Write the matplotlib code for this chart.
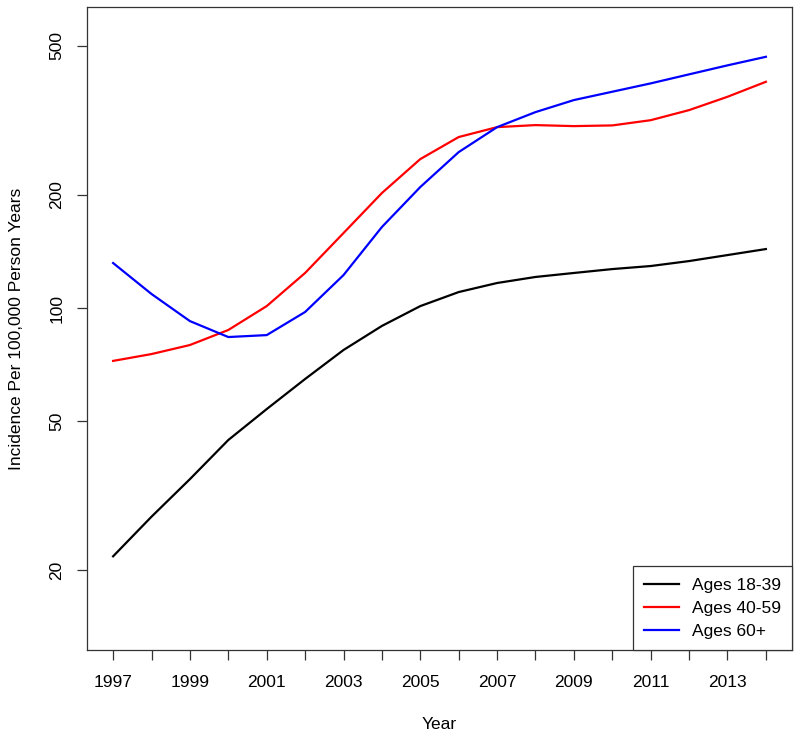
import numpy as np
import matplotlib
matplotlib.use("Agg")
import matplotlib.pyplot as plt
from matplotlib.ticker import FixedLocator, NullFormatter, NullLocator

plt.rcParams["font.family"] = ["Liberation Sans", "DejaVu Sans"]

years = list(range(1997, 2015))

# incidence per 100,000 person years
ages_18_39 = [21.8, 27.8, 35.0, 44.5, 53.8, 64.7, 77.3, 89.6, 101.2, 110.3,
              116.6, 121.0, 124.0, 127.0, 129.4, 133.4, 138.4, 143.6]
ages_40_59 = [72.3, 75.4, 79.7, 87.4, 101.2, 124.0, 158.4, 202.5, 249.4, 285.5,
              303.4, 307.2, 305.3, 306.6, 316.6, 336.8, 365.5, 400.7]
ages_60_up = [131.8, 109.0, 92.3, 83.7, 84.7, 97.6, 122.4, 164.4, 210.1, 260.3,
              303.4, 332.7, 358.2, 377.0, 396.8, 419.4, 443.2, 467.1]

series = [
    ("Ages 18-39", ages_18_39, "black"),
    ("Ages 40-59", ages_40_59, "#ff0000"),
    ("Ages 60+", ages_60_up, "#0000ff"),
]

y_ticks = [20, 50, 100, 200, 500]
x_label_years = list(range(1997, 2015, 2))

FS = 12.5

fig = plt.figure(figsize=(8.0, 7.38), dpi=100)
ax = fig.add_axes([0.10875, 0.11924, 0.88125, 0.87127])

for name, vals, col in series:
    ax.plot(years, vals, color=col, linewidth=1.6, label=name)

ax.set_yscale("log")
ax.set_xlim(1996.32, 2014.68)
ax.set_ylim(12.27, 634)

ax.yaxis.set_major_locator(FixedLocator(y_ticks))
ax.yaxis.set_minor_locator(NullLocator())
ax.set_yticklabels([str(v) for v in y_ticks], rotation=90, va="center")

ax.xaxis.set_major_locator(FixedLocator(x_label_years))
ax.xaxis.set_minor_locator(FixedLocator([y for y in years if y not in x_label_years]))
ax.xaxis.set_minor_formatter(NullFormatter())
ax.set_xticklabels([str(y) for y in x_label_years])

ax.tick_params(axis="both", which="both", direction="out", length=7.2,
               width=0.9, color="#333333", labelsize=FS)
ax.tick_params(axis="x", which="both", pad=10.5)
ax.tick_params(axis="y", which="both", pad=9)

for sp in ax.spines.values():
    sp.set_linewidth(0.9)
    sp.set_color("#333333")

ax.set_xlabel("Year", fontsize=FS)
ax.set_ylabel("Incidence Per 100,000 Person Years", fontsize=FS)
ax.xaxis.set_label_coords(0.5, -0.104)
ax.yaxis.set_label_coords(-0.089, 0.5)

leg = ax.legend(loc="lower right", bbox_to_anchor=(1.0, 0.0), borderaxespad=0,
                fontsize=FS, handlelength=2.0, handletextpad=0.75,
                borderpad=0.65, labelspacing=0.45, fancybox=False, framealpha=1)
leg.get_frame().set_edgecolor("#333333")
leg.get_frame().set_linewidth(0.9)

fig.savefig("out.png", dpi=100)
